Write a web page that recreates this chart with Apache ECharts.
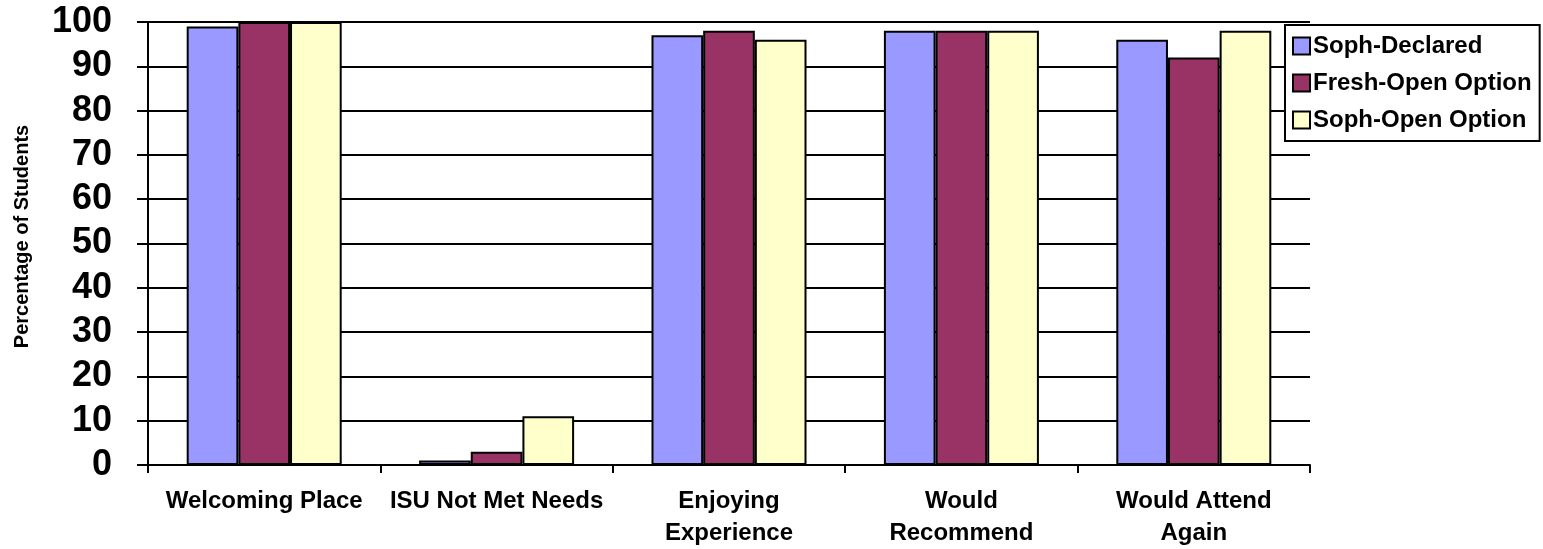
<!DOCTYPE html>
<html>
<head>
<meta charset="utf-8">
<script src="https://cdn.jsdelivr.net/npm/echarts@6/dist/echarts.min.js"></script>
<style>
  html, body { margin: 0; padding: 0; background: #fff; }
  #chart { width: 1543px; height: 549px; }
</style>
</head>
<body>
<div id="chart"></div>
<script>
// Survey questions along the x axis
const categories = [
  'Welcoming Place',
  'ISU Not Met Needs',
  'Enjoying\nExperience',
  'Would\nRecommend',
  'Would Attend\nAgain'
];

// Percentage of students answering yes, per group
const sophDeclared   = [99, 1, 97, 98, 96];
const freshOpen      = [100, 3, 98, 98, 92];
const sophOpen       = [100, 11, 96, 98, 98];

const seriesNames = ['Soph-Declared', 'Fresh-Open Option', 'Soph-Open Option'];
const seriesColors = ['#9999FF', '#993366', '#FFFFCC'];

const FONT = '"Liberation Sans", Arial, sans-serif';

const chart = echarts.init(document.getElementById('chart'), null, { renderer: 'canvas' });

const barStyle = (color) => ({
  color: color,
  borderColor: '#000',
  borderWidth: 2
});

chart.setOption({
  animation: false,
  backgroundColor: '#fff',
  grid: { left: 148, right: 233, top: 22, bottom: 84, containLabel: false },
  legend: {
    orient: 'vertical',
    left: 1285,
    top: 25,
    padding: [9, 8, 9, 7],
    itemGap: 13,
    itemWidth: 17,
    itemHeight: 17,
    backgroundColor: '#fff',
    borderColor: '#000',
    borderWidth: 2,
    borderRadius: 0,
    icon: 'rect',
    itemStyle: { borderColor: '#000', borderWidth: 2 },
    textStyle: { fontFamily: FONT, fontWeight: 'bold', fontSize: 24, color: '#000', padding: [0, 0, 0, -2] },
    data: seriesNames
  },
  xAxis: {
    type: 'category',
    data: categories,
    boundaryGap: true,
    axisLine: { show: true, lineStyle: { color: '#000', width: 2 } },
    axisTick: { show: true, length: 8, inside: false, lineStyle: { color: '#000', width: 2 } },
    axisLabel: {
      interval: 0,
      margin: 20,
      fontFamily: FONT,
      fontWeight: 'bold',
      fontSize: 24,
      lineHeight: 32,
      color: '#000'
    },
    splitLine: { show: false }
  },
  yAxis: {
    type: 'value',
    min: 0,
    max: 100,
    interval: 10,
    name: 'Percentage of Students',
    nameLocation: 'middle',
    nameGap: 116,
    nameTextStyle: { fontFamily: FONT, fontWeight: 'bold', fontSize: 20, color: '#000', padding: [0, 0, 0, 14] },
    axisLine: { show: true, lineStyle: { color: '#000', width: 2 } },
    axisTick: { show: true, length: 11, lineStyle: { color: '#000', width: 2 } },
    axisLabel: {
      margin: 36,
      fontFamily: FONT,
      fontWeight: 'bold',
      fontSize: 36,
      color: '#000'
    },
    splitLine: { show: true, lineStyle: { color: '#000', width: 2 } }
  },
  series: [
    { name: seriesNames[0], type: 'bar', data: sophDeclared, barGap: '0%', barCategoryGap: '33.3%', itemStyle: barStyle(seriesColors[0]) },
    { name: seriesNames[1], type: 'bar', data: freshOpen, barGap: '0%', barCategoryGap: '33.3%', itemStyle: barStyle(seriesColors[1]) },
    { name: seriesNames[2], type: 'bar', data: sophOpen, barGap: '0%', barCategoryGap: '33.3%', itemStyle: barStyle(seriesColors[2]) }
  ]
});
</script>
</body>
</html>
